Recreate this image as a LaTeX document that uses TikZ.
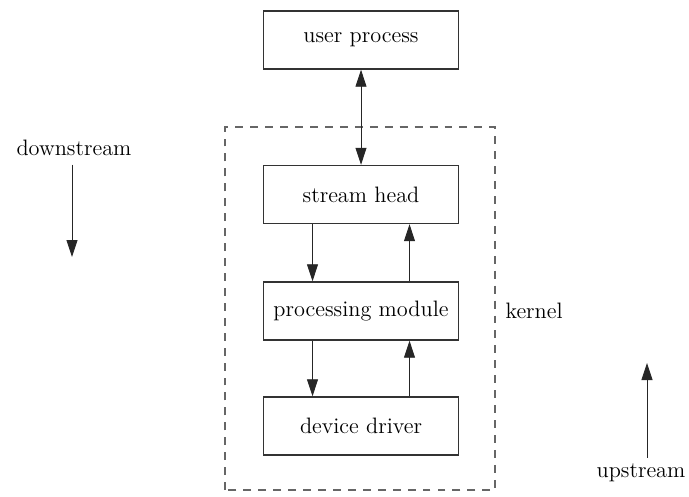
\documentclass[tikz,border=0pt]{standalone}
\usepackage{tikz}
\usetikzlibrary{positioning, arrows.meta}
\newcommand{\stagefont}{\fontsize{12.7}{15}\selectfont}
\tikzset{
    stage/.style={rectangle, draw=black!80, fill=white, minimum width=3.9cm, minimum height=1.16cm, inner sep=2pt, font=\stagefont, line width=0.8pt},
    tag/.style={font=\stagefont, inner sep=2pt},
    flow/.style={draw, line width=0.5pt, black!85, -{Triangle[length=3.4mm, width=2.2mm]}},
    dashedge/.style={draw, line width=0.7pt, black!60, dash pattern=on 4.5pt off 4pt}
}

\begin{document}
\begin{tikzpicture}
\useasboundingbox (0,0) rectangle (13.78,9.92);

% Kernel region
\draw[dashedge] (4.50,0.12) rectangle (9.90,7.38);

% Stream stages
\node[stage] (user) at (7.22,9.12) {user process};
\node[stage] (head) at (7.22,6.03) {stream head};
\node[stage] (proc) at (7.22,3.70) {processing module};
\node[stage] (drv)  at (7.22,1.40) {device driver};

\draw[flow, {Triangle[length=3.4mm, width=2.2mm]}-{Triangle[length=3.4mm, width=2.2mm]}] (user) -- (head);

% Down (left) and up (right) links
\draw[flow] ([xshift=-0.97cm]head.south) -- ([xshift=-0.97cm]proc.north);
\draw[flow] ([xshift=0.97cm]proc.north) -- ([xshift=0.97cm]head.south);
\draw[flow] ([xshift=-0.97cm]proc.south) -- ([xshift=-0.97cm]drv.north);
\draw[flow] ([xshift=0.97cm]drv.north) -- ([xshift=0.97cm]proc.south);

\node[tag, right=0.85cm of proc] (kernel) {kernel};

% Direction labels
\node[tag] (down) at (1.48,6.96) {downstream};
\coordinate (downend) at (1.44,4.78);
\draw[flow] (down.south -| downend) ++(0,-0.1) -- (downend);

\node[tag] (up) at (12.82,0.46) {upstream};
\coordinate (upend) at (12.94,2.66);
\draw[flow] (up.north -| upend) ++(0,0.05) -- (upend);
\end{tikzpicture}
\end{document}
